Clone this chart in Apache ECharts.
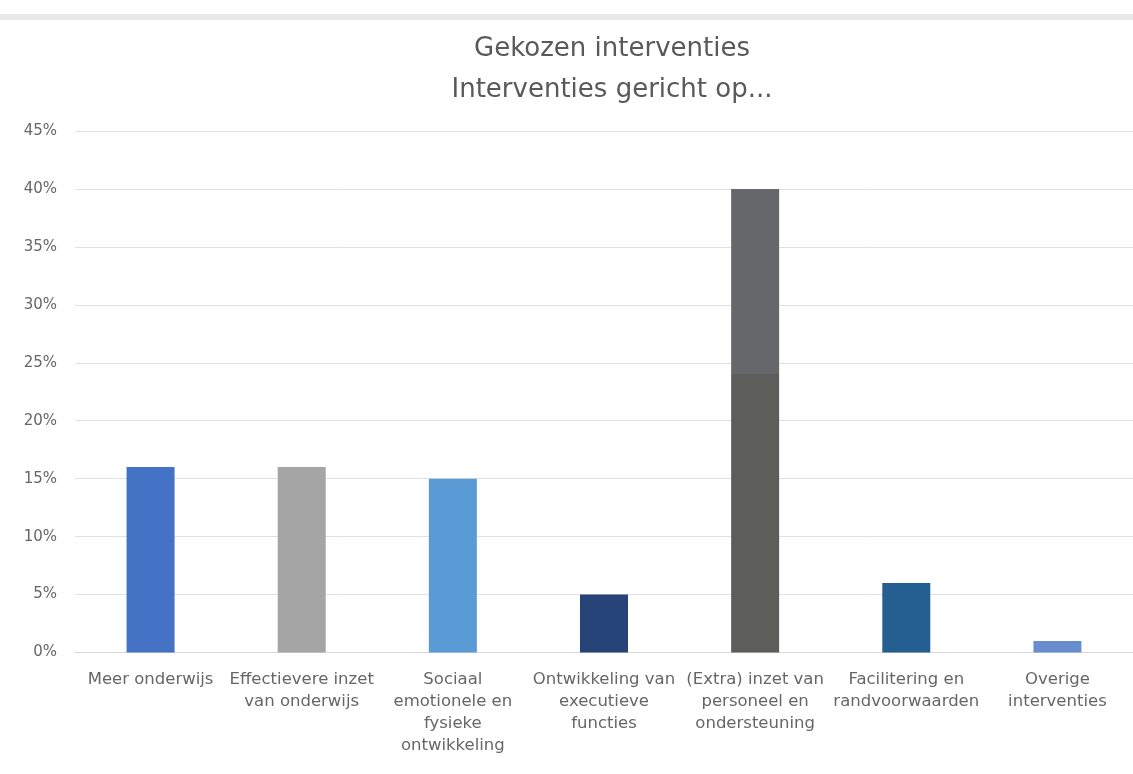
<!DOCTYPE html>
<html>
<head>
<meta charset="utf-8">
<script src="https://cdn.jsdelivr.net/npm/echarts@6/dist/echarts.min.js"></script>
<style>html,body{margin:0;padding:0;background:#fff}#c{width:1133px;height:774px}</style>
</head>
<body>
<div id="c"></div>
<script>
const titleLines = ['Gekozen interventies', 'Interventies gericht op...'];
const categories = [
  'Meer onderwijs',
  'Effectievere inzet\nvan onderwijs',
  'Sociaal\nemotionele en\nfysieke\nontwikkeling',
  'Ontwikkeling van\nexecutieve\nfuncties',
  '(Extra) inzet van\npersoneel en\nondersteuning',
  'Facilitering en\nrandvoorwaarden',
  'Overige\ninterventies'
];
const values = [16, 16, 15, 5, 40, 6, 1];
const barColors = ['#4472c4', '#a5a5a5', '#5b9bd5', '#264478', '#636363', '#255e91', '#698ed0'];
const yTicks = [0, 5, 10, 15, 20, 25, 30, 35, 40, 45];

const chart = echarts.init(document.getElementById('c'), null, {renderer: 'canvas'});
const FONT = '"DejaVu Sans", "Open Sans", sans-serif';

function colorFor(i) {
  if (i === 4) {
    // scanned bar shows a lighter upper part
    return new echarts.graphic.LinearGradient(0, 0, 0, 1, [
      {offset: 0, color: '#66676b'},
      {offset: 0.4, color: '#66676b'},
      {offset: 0.4, color: '#5d5d5b'},
      {offset: 1, color: '#5d5d5b'}
    ]);
  }
  return barColors[i];
}

chart.setOption({
  animation: false,
  backgroundColor: '#ffffff',
  graphic: [{
    type: 'rect', left: 0, top: 14, shape: {width: 1133, height: 6},
    style: {fill: '#e9e9e9'}, silent: true
  }],
  title: {
    text: titleLines.join('\n'),
    left: 607,
    textAlign: 'center',
    top: 24,
    textStyle: {fontFamily: FONT, fontSize: 26, fontWeight: 'normal', color: '#595959', lineHeight: 41}
  },
  grid: {left: 75, right: 0, top: 131, bottom: 121.5, containLabel: false},
  xAxis: {
    type: 'category',
    data: categories,
    axisTick: {show: false},
    axisLine: {show: true, lineStyle: {color: '#d9d9d9', width: 1}},
    axisLabel: {
      interval: 0, margin: 16, color: '#666666',
      fontFamily: FONT, fontSize: 16.5, lineHeight: 22, align: 'center'
    }
  },
  yAxis: {
    type: 'value',
    min: 0, max: 45, interval: 5,
    axisLine: {show: false},
    axisTick: {show: false},
    splitLine: {lineStyle: {color: '#e0e0e0', width: 1}},
    axisLabel: {
      margin: 18, color: '#666666', fontFamily: FONT, fontSize: 15,
      formatter: function (v) { return yTicks.indexOf(v) >= 0 ? v + '%' : ''; }
    }
  },
  series: [{
    type: 'bar',
    barWidth: 48,
    data: values.map(function (v, i) { return {value: v, itemStyle: {color: colorFor(i)}}; })
  }]
});
</script>
</body>
</html>
